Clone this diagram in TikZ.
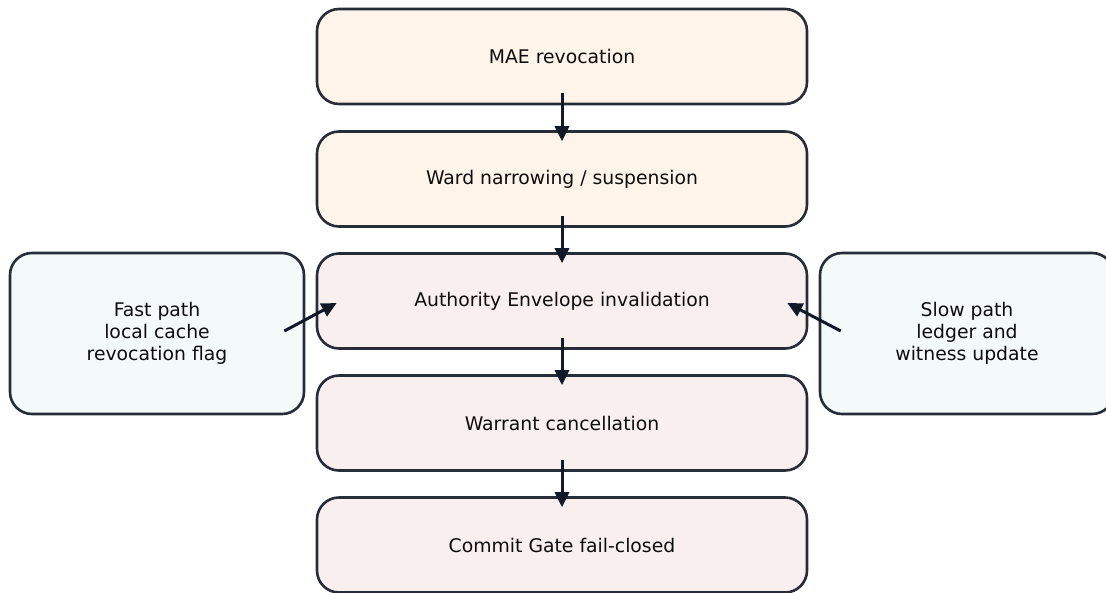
\documentclass[tikz,border=0pt]{standalone}
\usepackage{fontspec}
\setmainfont{DejaVu Sans}
\usetikzlibrary{arrows.meta,calc}

\definecolor{edgecol}{HTML}{262C38}
\definecolor{arrcol}{HTML}{111827}
\definecolor{warmfill}{HTML}{FFF4E9}
\definecolor{rosefill}{HTML}{FAEFEF}
\definecolor{mintfill}{HTML}{F4FAFA}

\tikzset{
  stagebox/.style={draw=edgecol, line width=2.6pt, rounded corners=22pt,
    minimum width=490pt, minimum height=95pt, inner sep=0pt,
    text=black!95, align=center},
  sidebox/.style={stagebox, fill=mintfill, minimum width=294pt, minimum height=161pt},
  flow/.style={draw=arrcol, line width=3pt, -{Triangle[length=15pt,width=14pt]}}
}

\begin{document}
\begin{tikzpicture}[x=1pt,y=-1pt,font=\fontsize{18.8}{22}\selectfont]
						% Fix the canvas to the reference size
						\useasboundingbox (0,0) rectangle (1106,592);
						
						% Draw the main chain of stages
						\node[stagebox, fill=warmfill] (mae) at (562,56.5) {MAE revocation};
						\node[stagebox, fill=warmfill] (ward) at (562,179) {Ward narrowing / suspension};
						\node[stagebox, fill=rosefill] (auth) at (562,301) {Authority Envelope invalidation};
						\node[stagebox, fill=rosefill] (warrant) at (562,423) {Warrant cancellation};
						\node[stagebox, fill=rosefill] (gate) at (562,545) {Commit Gate fail-closed};
						
						% Draw the two side paths
						\node[sidebox] (fast) at (157,333.5) {Fast path\\local cache\\revocation flag};
						\node[sidebox] (slow) at (967,333.5) {Slow path\\ledger and\\witness update};
						
						% Draw arrows between stages
						\foreach \a/\b in {mae/ward, ward/auth, auth/warrant, warrant/gate}
						\draw[flow, shorten <=-12pt, shorten >=-11pt] (\a) -- (\b);
						
						% Draw arrows from side paths into the envelope stage
						\draw[flow] ($(fast.east)+(-21,-2.5)$) -- ($(auth.west)+(21,2)$);
						\draw[flow] ($(slow.west)+(22,-2.5)$) -- ($(auth.east)+(-21,2)$);
						\end{tikzpicture}
\end{document}
